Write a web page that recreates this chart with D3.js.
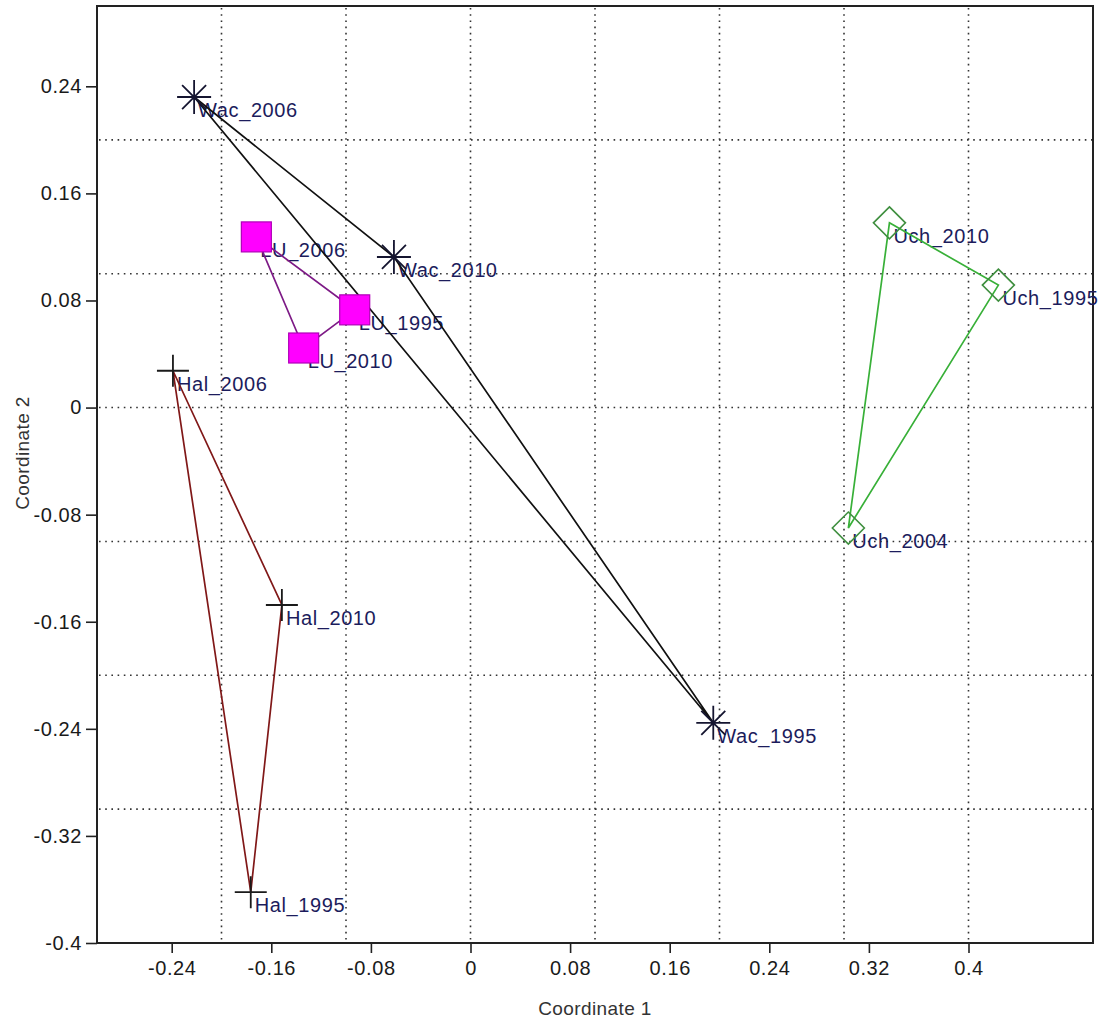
<!DOCTYPE html>
<html>
<head>
<meta charset="utf-8">
<script src="https://cdn.jsdelivr.net/npm/d3@7"></script>
<style>
  html, body { margin: 0; padding: 0; background: #fff; }
  svg { display: block; }
  text { font-family: "Liberation Sans", Arial, sans-serif; }
</style>
</head>
<body>
<svg id="chart" width="1100" height="1022"></svg>
<script>
// ---- data ----
const pointNames = ["Wac_2006","Wac_2010","Wac_1995","LU_2006","LU_1995","LU_2010","Hal_2006","Hal_2010","Hal_1995","Uch_2010","Uch_1995","Uch_2004"];
const pointGroup = ["Wac","Wac","Wac","LU","LU","LU","Hal","Hal","Hal","Uch","Uch","Uch"];
const coord1 = [-0.222, -0.0615, 0.195, -0.172, -0.093, -0.134, -0.239, -0.1515, -0.1765, 0.3365, 0.424, 0.3035];
const coord2 = [0.232, 0.1125, -0.2355, 0.1275, 0.073, 0.0445, 0.0275, -0.1475, -0.362, 0.138, 0.0915, -0.09];
const groups = ["Wac","LU","Hal","Uch"];
const xTicks = [-0.24, -0.16, -0.08, 0, 0.08, 0.16, 0.24, 0.32, 0.4];
const yTicks = [-0.4, -0.32, -0.24, -0.16, -0.08, 0, 0.08, 0.16, 0.24];
const xGrid = [-0.2, -0.1, 0, 0.1, 0.2, 0.3, 0.4];
const yGrid = [-0.3, -0.2, -0.1, 0, 0.1, 0.2];
const xTitle = "Coordinate 1";
const yTitle = "Coordinate 2";

// ---- styles ----
const lineColor = {Wac: "#111111", LU: "#7d1a86", Hal: "#801818", Uch: "#38b038"};
const labelColor = "#1c1c5c";

const svg = d3.select("#chart");
const L = 97, R = 1093, T = 6, B = 943;
const x = d3.scaleLinear().domain([-0.3, 0.5]).range([L, R]);
const y = d3.scaleLinear().domain([-0.4, 0.3]).range([B, T]);

const fmt = d => d === 0 ? "0" : String(+d.toFixed(2));

// grid
const grid = svg.append("g");
grid.selectAll("line.gx").data(xGrid).join("line")
  .attr("x1", d => x(d)).attr("x2", d => x(d)).attr("y1", T + 2).attr("y2", B)
  .attr("stroke", "#333").attr("stroke-width", 1.6).attr("stroke-dasharray", "1.6,4.6");
grid.selectAll("line.gy").data(yGrid).join("line")
  .attr("y1", d => y(d)).attr("y2", d => y(d)).attr("x1", L + 2).attr("x2", R)
  .attr("stroke", "#333").attr("stroke-width", 1.6).attr("stroke-dasharray", "1.6,4.6");

// axes
const xAxis = d3.axisBottom(x).tickValues(xTicks).tickFormat(fmt).tickSize(10).tickPadding(8);
const yAxis = d3.axisLeft(y).tickValues(yTicks).tickFormat(fmt).tickSize(11).tickPadding(4);
const gx = svg.append("g").attr("transform", `translate(0,${B})`).call(xAxis);
const gy = svg.append("g").attr("transform", `translate(${L},0)`).call(yAxis);
[gx, gy].forEach(g => {
  g.select(".domain").remove();
  g.selectAll(".tick line").attr("stroke", "#222").attr("stroke-width", 1.6);
  g.selectAll(".tick text").attr("fill", "#1a1a1a").style("font-size", "20px")
    .style("letter-spacing", "0.6px")
    .style("font-family", '"Liberation Sans", Arial, sans-serif');
});

// frame
svg.append("rect").attr("x", L).attr("y", T).attr("width", R - L).attr("height", B - T)
  .attr("fill", "none").attr("stroke", "#222").attr("stroke-width", 2);

// titles
svg.append("text").attr("x", (L + R) / 2).attr("y", 1015).attr("text-anchor", "middle")
  .style("font-size", "19px").style("letter-spacing", "0.4px").attr("fill", "#333").text(xTitle);
svg.append("text").attr("transform", "translate(29,453) rotate(-90)").attr("text-anchor", "middle")
  .style("font-size", "19px").style("letter-spacing", "0.4px").attr("fill", "#333").text(yTitle);

const pts = pointNames.map((n, i) => ({name: n, group: pointGroup[i], c1: coord1[i], c2: coord2[i]}));

// labels
svg.append("g").selectAll("text").data(pts).join("text")
  .attr("x", d => x(d.c1) + 4).attr("y", d => y(d.c2) + 20)
  .attr("fill", labelColor).style("font-size", "20px").style("letter-spacing", "0.6px")
  .text(d => d.name);

// hull lines
const lineGen = d3.line().x(d => x(d.c1)).y(d => y(d.c2)).curve(d3.curveLinearClosed);
svg.append("g").selectAll("path").data(groups).join("path")
  .attr("d", g => lineGen(pts.filter(p => p.group === g)))
  .attr("fill", "none").attr("stroke", g => lineColor[g]).attr("stroke-width", 1.7);

// markers
const mk = svg.append("g");
pts.forEach(p => {
  const cx = x(p.c1), cy = y(p.c2);
  if (p.group === "Wac") {
    const r = 17, q = 12;
    mk.append("path").attr("d",
      `M${cx - r},${cy}L${cx + r},${cy}M${cx},${cy - r}L${cx},${cy + r}` +
      `M${cx - q},${cy - q}L${cx + q},${cy + q}M${cx - q},${cy + q}L${cx + q},${cy - q}`)
      .attr("stroke", "#151530").attr("stroke-width", 1.8).attr("fill", "none");
  } else if (p.group === "LU") {
    mk.append("rect").attr("x", cx - 15).attr("y", cy - 15).attr("width", 30).attr("height", 30)
      .attr("fill", "#ff00ff").attr("stroke", "#b000b8").attr("stroke-width", 1.2);
  } else if (p.group === "Hal") {
    const r = 16;
    mk.append("path").attr("d", `M${cx - r},${cy}L${cx + r},${cy}M${cx},${cy - r}L${cx},${cy + r}`)
      .attr("stroke", "#1a1a1a").attr("stroke-width", 1.8);
  } else {
    const r = 16;
    mk.append("path").attr("d", `M${cx},${cy - r}L${cx + r},${cy}L${cx},${cy + r}L${cx - r},${cy}Z`)
      .attr("fill", "none").attr("stroke", "#3f8f3f").attr("stroke-width", 1.6);
  }
});
</script>
</body>
</html>
